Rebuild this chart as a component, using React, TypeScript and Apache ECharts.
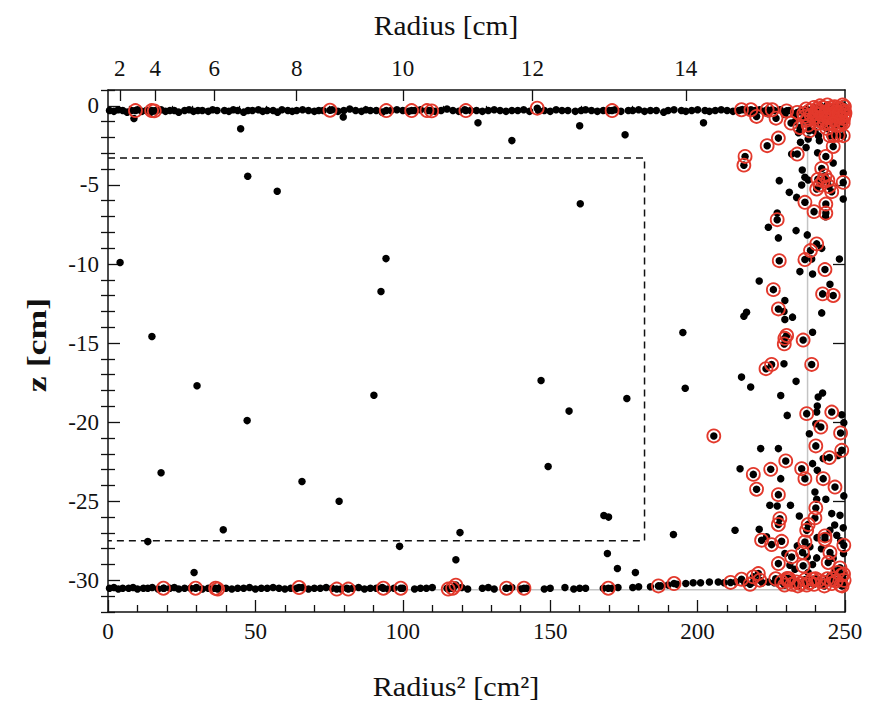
import React, { useEffect, useRef } from "react";
import * as echarts from "echarts";

// ---------- tick labels ----------
const r2Ticks = [0, 50, 100, 150, 200, 250];
const radiusMajorTicks = [2, 4, 6, 8, 10, 12, 14];
const radiusMinorTicks = [2.667, 3.333, 4.667, 5.333, 6.667, 7.333, 8.667, 9.333, 10.667, 11.333, 12.667, 13.333, 14.667, 15.333];
const zMajorTicks = [0, -5, -10, -15, -20, -25, -30];
const zMinorTicks = [1, -1, -2, -3, -4, -6, -7, -8, -9, -11, -12, -13, -14, -16, -17, -18, -19, -21, -22, -23, -24, -26, -27, -28, -29, -31, -32];

// ---------- geometry of cuts ----------
const fiducialBox: [number, number][] = [[0, -3.3], [182, -3.3], [182, -27.5], [0, -27.5]];
const detectorEdge: [number, number][] = [[0, -30.6], [237.3, -30.6], [237.3, 0]];

// ---------- events (Radius^2 [cm^2], z [cm]) ----------
const topBandEvents: [number, number][] = [
  [0.5,-0.3],[2,-0.35],[3.5,-0.25],[5,-0.3],[6.5,-0.4],[8,-0.3],[10,-0.25],[11.5,-0.35],[13,-0.3],[14.5,-0.4],[16.5,-0.3],[18,-0.25],[19.5,-0.35],[21,-0.3],[22.5,-0.3],[24,-0.4],[26,-0.3],[27.5,-0.25],[29,-0.35],[30.5,-0.3],[32,-0.3],[34,-0.35],[35.5,-0.25],[37,-0.3],[39.5,-0.3],[41,-0.35],[42.5,-0.25],[44,-0.3],[46,-0.4],[47.5,-0.3],[49,-0.3],[51,-0.25],[52.5,-0.35],[54,-0.3],[56,-0.3],[57.5,-0.4],[59,-0.25],[61,-0.3],[62.5,-0.35],[64,-0.3],[66,-0.25],[68,-0.3],[70,-0.35],[71.5,-0.3],[73,-0.3],[76,-0.25],[78,-0.35],[80,-0.3],[82,-0.2],[84,-0.3],[86,-0.35],[87.5,-0.25],[89,-0.3],[91,-0.3],[93,-0.4],[96,-0.3],[98,-0.25],[100,-0.3],[102,-0.35],[104,-0.3],[106,-0.25],[109,-0.3],[111,-0.35],[113,-0.3],[115,-0.2],[117,-0.3],[119,-0.35],[121,-0.25],[123,-0.3],[125,-0.3],[127,-0.35],[129,-0.3],[131,-0.25],[133,-0.3],[135,-0.35],[137,-0.3],[139,-0.3],[141,-0.25],[143,-0.35],[146,-0.3],[148,-0.3],[150,-0.35],[152,-0.25],[154,-0.3],[156,-0.3],[158.5,-0.35],[160.5,-0.3],[162,-0.25],[164,-0.3],[166,-0.35],[168,-0.3],[170,-0.3],[172,-0.25],[174,-0.35],[176.5,-0.3],[178,-0.3],[180,-0.25],[182,-0.35],[184,-0.3],[186,-0.3],[188.5,-0.4],[190,-0.3],[192,-0.25],[194.5,-0.3],[196,-0.35],[198,-0.3],[200,-0.25],[202.5,-0.3],[204,-0.35],[206,-0.3],[208,-0.25],[210,-0.3],[212,-0.35],[214,-0.3],[216,-0.25],[218,-0.4],[219.5,-0.3],[221,-0.25],[222.5,-0.35],[224,-0.5],[226,-0.3],[228,-0.25],[229.5,-0.4],[231,-0.3],[233,-0.6],[235,-0.3],[237,-0.45],[239,-0.2],[241,-0.6],[243,-0.3],[245,-0.8],[247,-0.2],[249,-0.5]
];

const bottomBandEvents: [number, number][] = [
  [0.5,-30.5],[2,-30.45],[3.5,-30.55],[5,-30.5],[7,-30.5],[8.5,-30.45],[10,-30.55],[12,-30.5],[13.5,-30.5],[15,-30.45],[17,-30.55],[19,-30.5],[21,-30.5],[22.5,-30.45],[24,-30.55],[26,-30.5],[28,-30.5],[30,-30.45],[32,-30.55],[34,-30.5],[36,-30.5],[38,-30.45],[40,-30.5],[42,-30.55],[44,-30.5],[46,-30.5],[48,-30.45],[50,-30.55],[52,-30.5],[54,-30.5],[56,-30.45],[58,-30.5],[60,-30.55],[62,-30.5],[64,-30.5],[66,-30.45],[68,-30.55],[70,-30.5],[72,-30.5],[74,-30.45],[76,-30.5],[79,-30.55],[81,-30.5],[83,-30.5],[85,-30.45],[87,-30.55],[89,-30.5],[91,-30.5],[93,-30.45],[95,-30.55],[97,-30.5],[100,-30.5],[104,-30.55],[106,-30.5],[108,-30.5],[110,-30.45],[115,-30.5],[117,-30.5],[120,-30.45],[122,-30.55],[127,-30.5],[129,-30.45],[131,-30.55],[135,-30.5],[137,-30.45],[140,-30.55],[142,-30.5],[148,-30.55],[150,-30.5],[155,-30.45],[158,-30.55],[160,-30.5],[162,-30.5],[168,-30.5],[171,-30.5],[173,-30.45],[178,-30.45],[180,-30.4],[184,-30.4],[187.5,-30.35],[190,-30.3],[193,-30.25],[196,-30.2],[198.5,-30.15],[201,-30.15],[204,-30.1],[207,-30.1],[209,-30.15],[213,-30.1],[216,-30.15],[219,-30.1],[222,-30.15],[224,-30.1],[226,-30.15],[227.5,-30.05],[229,-30.1],[231,-30.2],[233,-30.05],[234.5,-30.15],[236,-30.1],[238,-30.0],[240,-30.15],[241.5,-30.1],[243,-30.2],[245,-30.05],[246.5,-30.15],[248,-30.0],[249.5,-30.2]
];

const scatteredEvents: [number, number][] = [
  [8.8,-0.8],[45,-1.45],[79.8,-0.7],[47.4,-4.45],[57.4,-5.4],[4.1,-9.9],[94.3,-9.66],[92.6,-11.74],[14.9,-14.58],[30.2,-17.7],[47.2,-19.9],[18,-23.2],[65.8,-23.75],[78.4,-25],[39.1,-26.8],[13.5,-27.55],[29.2,-29.5],[90.2,-18.3],[98.9,-27.85],
  [125.5,-1.07],[137,-2.2],[160,-1.26],[175.4,-1.83],[202,-1.07],[160.2,-6.19],[146.9,-17.36],[156.4,-19.3],[176,-18.5],[149.3,-22.8],[119.4,-26.98],[118,-28.7],
  [168.2,-25.9],[169.8,-26.0],[169.4,-28.3],[172.8,-29.25],[178.9,-29.5],[191.8,-27.1],[195,-14.33],[195.8,-17.85]
];

const clusterEvents: [number, number][] = [
  [229.6,-0.55],[235.8,-0.95],[234.2,-1.7],[239.8,-1.6],[247.2,-1.2],[233,-1.0],[238.5,-1.0],
  [237.5,-2.1],[236.8,-2.63],[241,-1.89],[241.3,-2.21],[234.9,-2.31],[240.7,-2.97],[246,-3.62],[235.5,-4.06],[237.5,-4.69],[249.4,-4.25],[249.4,-5.89],[227.7,-4.73],[231.1,-5.47],[235.3,-5.01],[236.4,-4.52],[233.6,-5.79],[227,-6.78],[231.9,-3.05],[243.4,-7.01],
  [224,-7.68],[233.4,-7.89],[227.4,-8.35],[237.2,-8.16],[242.1,-9.01],[238.7,-9.68],[248.1,-9.68],[234.7,-10.48],[239,-10.63],[220.9,-11.07],[244.9,-11.28],[229.6,-12.31],[229.3,-13.0],[242.1,-13.09],[216.6,-13.05],[215.7,-13.3],[232.2,-13.36],[229.6,-13.51],[239,-14.31],
  [229.3,-16.31],[214.9,-17.15],[233.4,-17.42],[218,-17.78],[228.2,-18.31],[240.9,-18.41],[242.4,-18.16],[240.6,-18.98],[230.4,-19.57],[240.4,-19.36],[248.9,-19.53],[240.1,-20.1],[249.6,-20.03],[237.9,-20.73],[221.4,-21.67],[227.4,-21.67],[242.6,-22.3],[247.7,-22.1],[239,-22.62],[214.4,-22.94],[240.6,-23.04],[228.2,-23.57],
  [239.8,-24.41],[249.6,-24.66],[240.4,-24.87],[243.5,-24.87],[224.5,-25.25],[227,-25.3],[231.5,-25.25],[234.5,-25.93],[245.5,-25.78],[248.3,-25.89],[212.7,-26.83],[220.9,-26.77],[244.9,-26.83],[247.2,-27.15],[249.4,-26.68],[223.4,-27.25],[233.8,-27.82],[238.1,-27.88],[229.6,-28.3],[237.2,-28.52],[240.4,-28.58],[231.3,-29.04],[237.5,-29.5],[244.9,-29.72],
  [246.5,-26.5],[248.5,-27.5],[249.5,-28.3],[246,-28.6],[242,-28.0],[240.5,-27.3],[239,-29.0],[233,-29.3],[246.5,-29.4]
];

const flaggedEvents: [number, number][] = [
  [9.3,-0.3],[14.8,-0.3],[15.7,-0.32],[75.3,-0.28],[94.4,-0.3],[103,-0.3],[108.2,-0.3],[109.8,-0.32],[121.4,-0.3],[145.6,-0.15],[171,-0.3],
  [214.9,-0.25],[218.1,-0.25],[220,-0.67],[223.6,-0.25],[225.3,-0.25],[226.6,-0.78],[230.2,-0.32],[231.7,-1.09],[233.8,-0.42],[234.7,-1.37],[236.4,-0.67],[237.5,-1.22],[237.9,-1.58],[239.5,-0.74],[243.8,-1.43],[244.9,-1.89],[246.2,-1.89],[247.7,-1.85],[249.4,-1.89],[249.4,-1.09],
  [240.5,-0.2],[241.5,-0.5],[242.5,-0.1],[243,-0.8],[244,-0.35],[245,-0.6],[245.5,-0.1],[246.5,-0.9],[247,-0.4],[248,-0.15],[248.5,-0.7],[249,-0.35],[249.8,-0.05],[249.8,-0.6],[242,-1.0],[244.5,-1.1],[247.5,-1.2],[238,-0.3],[236.8,-0.2],[241,-0.9],[243.5,-0.45],[246,-0.25],[248.8,-1.0],[240,-0.5],[242.8,-0.6],[245.8,-0.5],[247.8,-0.7],[249.5,-0.3],
  [236,-0.5],[237,-0.9],[238.5,-0.6],[239.5,-0.1],[240.5,-1.1],[241.5,0],[242,-0.35],[243,-1.1],[244,0.05],[244.5,-0.75],[245.5,-0.35],[246.5,-0.05],[247,-0.65],[248,-0.45],[248.5,-1.2],[249.2,0.05],[249.5,-0.8],[250,-0.45],[241,-0.3],[246,-1.15],
  [227.4,-2.04],[223.6,-2.52],[216.1,-3.2],[215.7,-3.75],[233.8,-3.05],[246,-2.57],[243.5,-3.2],[242.1,-3.96],[243.2,-4.42],[240.8,-4.65],[241.5,-5.0],[242.6,-4.75],[244.2,-4.7],[244.6,-5.1],[240.4,-5.26],[245.5,-5.43],[249.4,-4.84],[236.4,-6.1],[239.5,-6.69],[243.5,-6.21],[243.5,-6.78],[227,-7.2],
  [240.4,-8.73],[238.3,-9.15],[227.7,-9.79],[236.4,-9.72],[243.2,-10.35],[225.7,-11.62],[242.4,-11.89],[246,-11.99],[227.4,-12.84],[230.2,-14.52],[229.6,-14.7],[235.8,-14.81],[229.4,-15.05],[225.1,-16.35],[223.2,-16.62],[238.7,-16.35],[237,-19.46],[245.5,-19.36],[241.8,-20.31],[205.5,-20.87],[248.5,-20.68],[240.1,-21.5],[248.9,-21.78],[244.7,-22.24],[229.9,-22.45],[224.8,-22.98],[235.3,-22.94],[218.9,-23.3],[236.4,-23.57],[242.6,-23.57],
  [246.6,-24.1],[220,-24.24],[227.4,-24.58],[240.1,-25.42],[239.8,-26.05],[227.9,-26.1],[227.4,-26.47],[237.5,-26.47],[237,-26.83],[243.2,-27.19],[221.7,-27.46],[225.1,-27.74],[228.5,-27.53],[236.4,-27.57],[243.2,-27.4],[249.6,-27.78],[235.6,-28.24],[231.9,-28.52],[244.9,-28.24],[227.4,-28.94],[235.8,-29.08],[244.3,-28.87],[248.3,-29.21],[230.4,-29.88],[239,-29.93],[248.8,-29.67],
  [18.8,-30.5],[29.7,-30.5],[36.5,-30.5],[37.2,-30.55],[64.8,-30.45],[77.6,-30.55],[81.5,-30.55],[93.4,-30.5],[99.3,-30.5],[115.4,-30.55],[116.9,-30.5],[118,-30.3],[135.2,-30.5],[141.1,-30.5],[169.7,-30.5],[186.7,-30.35],[192,-30.2],
  [211.2,-30.13],[214.9,-29.93],[217.8,-30.25],[218.9,-29.78],[220.6,-29.57],[221.1,-29.99],
  [228.5,-30.1],[230.5,-30.0],[232,-30.25],[233.5,-30.1],[235,-30.2],[236.5,-29.95],[238,-30.15],[239.5,-30.25],[241,-30.0],[242.5,-30.1],[244,-29.9],[245.5,-30.2],[247,-30.05],[248.5,-30.3],[249.7,-30.0],[249.5,-29.6],
  [229.5,-30.3],[231,-29.9],[234,-30.35],[237,-30.3],[240,-29.9],[243,-30.35],[246,-29.9],[249,-30.35],[226.5,-29.9],[247.5,-29.5]
];

const FONT = "'Liberation Serif', 'DejaVu Serif', serif";
const INK = "#111";

export default function App() {
  const ref = useRef<HTMLDivElement>(null);
  useEffect(() => {
    const chart = echarts.init(ref.current!, null, { renderer: "svg" });
    const frame = { show: true, onZero: false, lineStyle: { color: INK, width: 1.5 } };
    const tickStyle = { color: INK, width: 1.3 };
    const labelStyle = { color: INK, fontFamily: FONT, fontSize: 23 };
    const allBlack = [...topBandEvents, ...bottomBandEvents, ...scatteredEvents, ...clusterEvents, ...flaggedEvents];
    const option: any = {
      animation: false,
      backgroundColor: "#fff",
      textStyle: { fontFamily: FONT },
      grid: { left: 108, right: 31, top: 90, bottom: 96, containLabel: false, outerBoundsMode: "none" },
      xAxis: [
        {
          type: "value", position: "bottom", min: 0, max: 250, interval: 50,
          axisLine: frame,
          axisTick: { show: true, inside: true, length: 12, lineStyle: tickStyle },
          minorTick: { show: true, splitNumber: 5, length: 7, lineStyle: tickStyle },
          axisLabel: { ...labelStyle, margin: 8, formatter: (v: number) => (r2Ticks.includes(v) ? String(v) : "") },
          splitLine: { show: false },
        },
        {
          type: "value", position: "top", min: 0, max: 250,
          axisLine: frame,
          axisTick: { show: true, inside: true, length: 11, lineStyle: tickStyle, customValues: radiusMajorTicks.map((r) => r * r) },
          axisLabel: {
            ...labelStyle, margin: 10,
            customValues: radiusMajorTicks.map((r) => r * r),
            formatter: (v: number) => String(Math.round(Math.sqrt(v))),
          },
          splitLine: { show: false },
        },
        {
          type: "value", position: "top", min: 0, max: 250,
          axisLine: { show: false },
          axisTick: { show: true, inside: true, length: 7, lineStyle: tickStyle, customValues: radiusMinorTicks.map((r) => r * r) },
          axisLabel: { show: false },
          splitLine: { show: false },
        },
      ],
      yAxis: [
        {
          type: "value", position: "left", min: -32, max: 1,
          axisLine: frame,
          axisTick: { show: true, inside: true, length: 12, lineStyle: tickStyle, customValues: zMajorTicks },
          axisLabel: { ...labelStyle, margin: 9, customValues: zMajorTicks },
          splitLine: { show: false },
        },
        {
          type: "value", position: "left", min: -32, max: 1,
          axisLine: { show: false },
          axisTick: { show: true, inside: true, length: 7, lineStyle: tickStyle, customValues: zMinorTicks },
          axisLabel: { show: false },
          splitLine: { show: false },
        },
        {
          type: "value", position: "right", min: -32, max: 1,
          axisLine: frame,
          axisTick: { show: true, inside: true, length: 12, lineStyle: tickStyle, customValues: zMajorTicks },
          axisLabel: { show: false },
          splitLine: { show: false },
        },
        {
          type: "value", position: "right", min: -32, max: 1,
          axisLine: { show: false },
          axisTick: { show: true, inside: true, length: 7, lineStyle: tickStyle, customValues: zMinorTicks },
          axisLabel: { show: false },
          splitLine: { show: false },
        },
      ],
      series: [
        {
          type: "line", xAxisIndex: 0, yAxisIndex: 0, data: detectorEdge, symbol: "none", silent: true, z: 1,
          lineStyle: { color: "#c4c4c4", width: 1.5 },
        },
        {
          type: "line", xAxisIndex: 0, yAxisIndex: 0, data: fiducialBox, symbol: "none", silent: true, z: 2,
          lineStyle: { color: INK, width: 1.5, type: [7, 5] },
        },
        {
          type: "scatter", xAxisIndex: 0, yAxisIndex: 0, data: allBlack, symbol: "circle", symbolSize: 7.5, z: 3,
          itemStyle: { color: "#000", opacity: 1 },
        },
        {
          type: "scatter", xAxisIndex: 0, yAxisIndex: 0, data: flaggedEvents, symbol: "circle", symbolSize: 13, z: 4,
          itemStyle: { color: "rgba(0,0,0,0)", borderColor: "#e3392c", borderWidth: 1.8, opacity: 1 },
        },
      ],
      graphic: [
        { type: "text", x: 446, y: 25, scaleX: 1.05, style: { text: "Radius [cm]", align: "center", verticalAlign: "middle", fontFamily: FONT, fontSize: 28, fill: INK } },
        { type: "text", x: 456, y: 686, scaleX: 1.08, style: { text: "Radius² [cm²]", align: "center", verticalAlign: "middle", fontFamily: FONT, fontSize: 28, fill: INK } },
        { type: "text", x: 36, y: 345, rotation: Math.PI / 2, scaleX: 1.28, style: { text: "z [cm]", align: "center", verticalAlign: "middle", fontFamily: FONT, fontSize: 28, fontWeight: "bold", fill: INK } },
      ],
    };
    chart.setOption(option);
    return () => chart.dispose();
  }, []);
  return <div ref={ref} style={{ position: "fixed", left: 0, top: 0, width: 876, height: 708 }} />;
}
